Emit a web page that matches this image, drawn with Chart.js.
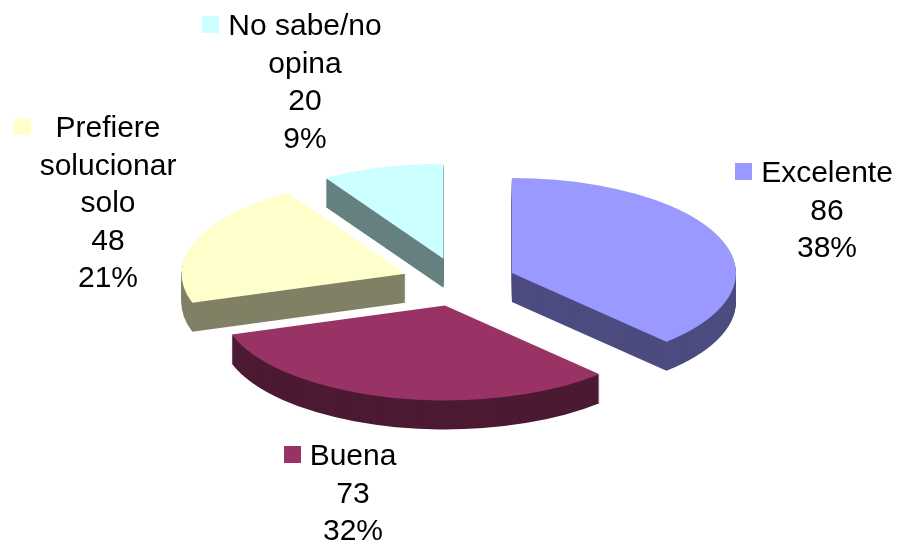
<!DOCTYPE html>
<html>
<head>
<meta charset="utf-8">
<script src="https://cdn.jsdelivr.net/npm/chart.js@4/dist/chart.umd.min.js"></script>
<style>
  html, body { margin: 0; padding: 0; background: #fff; }
  canvas { display: block; }
</style>
</head>
<body>
<canvas id="myChart" width="901" height="549"></canvas>
<script>
// datos
const categorias = ['Excelente', 'Buena', 'Prefiere solucionar solo', 'No sabe/no opina'];
const valores = [86, 73, 48, 20];
const porcentajes = ['38%', '32%', '21%', '9%'];
// como se parte el nombre en la etiqueta
const lineasNombre = [['Excelente'], ['Buena'], ['Prefiere', 'solucionar', 'solo'], ['No sabe/no', 'opina']];

const coloresArriba = ['#9999FF', '#993366', '#FFFFCC', '#CCFFFF'];
const coloresLado = ['#4C4C80', '#4D1A33', '#808066', '#668080'];

// efecto 3D
const INCLINACION = 95 / 224;   // aplastado vertical del disco
const PROFUNDIDAD = 29;         // alto del costado, px
const SEPARACION = 57;          // cuanto se abre cada porcion
const ALTO_LINEA = 37.6;
// x centro del texto, y linea base de la primera linea
const posEtiquetas = [[827, 182], [353, 465], [108, 137], [305, 35]];

const pie3d = {
  id: 'pie3d',
  beforeDatasetsDraw(chart) {
    const ctx = chart.ctx;
    const arcs = chart.getDatasetMeta(0).data;

    const dibujarPorcion = (arc, dy, color) => {
      const mid = (arc.startAngle + arc.endAngle) / 2;
      ctx.save();
      ctx.translate(0, arc.y + dy);
      ctx.scale(1, INCLINACION);
      ctx.translate(0, -arc.y);
      ctx.translate(Math.cos(mid) * SEPARACION, Math.sin(mid) * SEPARACION);
      ctx.beginPath();
      ctx.moveTo(arc.x, arc.y);
      ctx.arc(arc.x, arc.y, arc.outerRadius, arc.startAngle, arc.endAngle);
      ctx.closePath();
      ctx.fillStyle = color;
      ctx.fill();
      ctx.restore();
    };

    for (let k = PROFUNDIDAD; k > 0; k--) {
      arcs.forEach((a, i) => dibujarPorcion(a, k, coloresLado[i]));
    }
    arcs.forEach((a, i) => dibujarPorcion(a, 0, coloresArriba[i]));
    return false;
  },
  afterDraw(chart) {
    const ctx = chart.ctx;
    ctx.save();
    ctx.font = '30px "Liberation Sans", Arial, sans-serif';
    ctx.textAlign = 'center';
    ctx.textBaseline = 'alphabetic';
    posEtiquetas.forEach(([x, y], i) => {
      const lineas = [...lineasNombre[i], String(valores[i]), porcentajes[i]];
      const anchoMax = Math.max(...lineas.map(l => ctx.measureText(l).width));
      ctx.fillStyle = '#000';
      lineas.forEach((l, j) => ctx.fillText(l, x, y + j * ALTO_LINEA));
      ctx.fillStyle = coloresArriba[i];
      ctx.fillRect(Math.round(x - anchoMax / 2 - 9 - 17), y - 19, 17, 17);
    });
    ctx.restore();
  }
};

const ctx = document.getElementById('myChart');
const myChart = new Chart(ctx, {
  type: 'pie',
  data: {
    labels: categorias,
    datasets: [{
      data: valores,
      backgroundColor: coloresArriba,
      borderWidth: 0,
      radius: 224
    }]
  },
  options: {
    responsive: false,
    animation: false,
    layout: { padding: { left: 17, right: 0, top: 15, bottom: 0 } },
    plugins: {
      legend: { display: false },
      tooltip: { enabled: false },
      title: { display: false }
    }
  },
  plugins: [pie3d]
});
</script>
</body>
</html>
